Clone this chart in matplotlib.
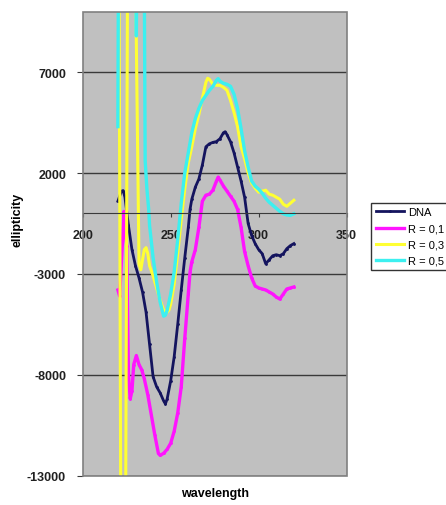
import matplotlib
matplotlib.use("Agg")
import matplotlib.pyplot as plt
from matplotlib.patches import Rectangle

plt.rcParams['font.family'] = ['Liberation Sans', 'DejaVu Sans']
plt.rcParams['axes.unicode_minus'] = False

# CD spectra (wavelength in nm, ellipticity)
wl_dna = [220, 222, 223, 224, 226, 228, 230, 232, 234, 236, 238, 240, 242, 244,
          246, 247, 248, 250, 252, 254, 256, 258, 260, 261, 262, 264, 266, 268,
          270, 272, 274, 276, 278, 280, 281, 282, 284, 286, 288, 290, 292, 294,
          296, 298, 300, 302, 304, 306, 308, 310, 312, 314, 316, 318, 320]
dna = [600, 1100, 1130, 800, -600, -1800, -2600, -3200, -3900, -4900, -6500,
       -8100, -8600, -8900, -9300, -9450, -9200, -8300, -7100, -5500, -3800,
       -2200, -700, 200, 700, 1300, 1700, 2400, 3300, 3450, 3520, 3560, 3700,
       4000, 4050, 3900, 3550, 3000, 2300, 1600, 800, -500, -1100, -1500, -1800,
       -2000, -2500, -2300, -2100, -2050, -2100, -2000, -1750, -1600, -1500]

wl_r01 = [220, 221, 223.5, 224, 225, 226, 227, 228, 229, 230.5, 232, 233.5, 235,
          237, 239, 241, 243, 244, 246, 248, 250, 252, 254, 256, 258, 260, 261,
          262, 264, 266, 268, 270, 272, 274, 276, 277, 278, 280, 282, 284, 286,
          288, 290, 292, 294, 296, 298, 300, 302, 304, 306, 308, 310, 312, 314,
          316, 318, 320]
r01 = [-3800, -4100, 100, -700, -1600, -8000, -9200, -8800, -7500, -7050, -7500,
       -7750, -8200, -9000, -10000, -11000, -11900, -12000, -11900, -11700,
       -11400, -10800, -9900, -8600, -6200, -4000, -2900, -2400, -1800, -700,
       600, 900, 950, 1150, 1600, 1800, 1650, 1350, 1100, 850, 600, 200, -700,
       -1900, -2600, -3200, -3600, -3700, -3750, -3800, -3900, -4000, -4150,
       -4250, -4000, -3750, -3700, -3650]

wl_r03 = [220, 222, 224, 226, 228, 230, 232, 233, 234, 235, 236, 237, 238, 240,
          242, 244, 246, 248, 249, 250, 252, 254, 256, 258, 260, 262, 264, 266,
          268, 270, 271, 272, 274, 276, 278, 280, 282, 284, 286, 288, 290, 292,
          294, 296, 298, 300, 302, 304, 306, 308, 310, 312, 314, 316, 318, 320]
r03 = [30000, -25000, -25000, 25000, 25000, 12000, -2500, -2800, -2300, -1800,
       -1700, -2000, -2600, -3100, -3700, -4300, -4800, -4900, -4800, -4500,
       -3500, -2000, -300, 1200, 2500, 3300, 4200, 4900, 5700, 6500, 6700, 6650,
       6400, 6350, 6350, 6250, 6100, 5600, 5000, 4300, 3300, 2700, 2000, 1500,
       1250, 1050, 1100, 1150, 950, 900, 800, 700, 450, 350, 500, 650]

wl_r05 = [220, 221, 229, 230.5, 232, 234, 235.5, 236.5, 237.5, 238, 240, 242,
          244, 246, 247, 248, 250, 252, 254, 256, 258, 260, 262, 264, 266, 268,
          270, 272, 274, 276, 277, 278, 280, 282, 284, 286, 288, 290, 292, 294,
          296, 298, 300, 302, 304, 306, 308, 310, 312, 314, 316, 318, 320]
r05 = [4300, 30000, 30000, 8800, 30000, 30000, 2600, 1200, 200, -600, -2200,
       -3400, -4400, -5100, -5050, -4800, -4000, -2900, -1300, 500, 2000, 3000,
       4000, 4700, 5200, 5600, 5850, 6100, 6300, 6600, 6680, 6550, 6450, 6400,
       6300, 5900, 5200, 4200, 3100, 2300, 1600, 1350, 1200, 1000, 750, 550,
       400, 250, 100, -20, -80, -100, -20]

labels = ["DNA", "R = 0,1", "R = 0,3", "R = 0,5"]
colors = ["#14145e", "#ff14ff", "#ffff33", "#3cf0f0"]

fig = plt.figure(figsize=(4.46, 5.06), dpi=100)
ax = fig.add_axes([0.1854, 0.0583, 0.5919, 0.9166])
ax.set_facecolor("#c0c0c0")

ax.plot(wl_dna, dna, color=colors[0], lw=2.0, marker='.', ms=2, label=labels[0])
ax.plot(wl_r01, r01, color=colors[1], lw=2.4, marker='.', ms=2, label=labels[1])
ax.plot(wl_r03, r03, color=colors[2], lw=2.2, label=labels[2])
ax.plot(wl_r05, r05, color=colors[3], lw=2.4, label=labels[3])

ax.set_xlim(200, 350)
ax.set_ylim(-13000, 10000)
ax.set_xticks([200, 250, 300, 350])
ax.set_yticks([7000, 2000, -3000, -8000, -13000])
ax.yaxis.grid(True, color="#3a3a3a", lw=1)
ax.set_axisbelow(True)

for side in ['top', 'right', 'left']:
    ax.spines[side].set_visible(False)
ax.spines['bottom'].set_position(('data', 0))
ax.spines['bottom'].set_color("#3a3a3a")
ax.add_patch(Rectangle((0, 0), 1, 1, transform=ax.transAxes, fill=False,
                       edgecolor="#808080", lw=1.2, zorder=5, clip_on=False))

ax.tick_params(axis='x', direction='out', length=3, color="#3a3a3a",
               labelsize=9, pad=8)
ax.tick_params(axis='y', direction='out', length=4, color="#3a3a3a",
               labelsize=9, pad=8)
for t in ax.get_xticklabels() + ax.get_yticklabels():
    t.set_fontweight('bold')
    t.set_color("#202020")

fig.text(0.482, 0.012, "wavelength", ha='center', va='bottom',
         fontsize=9, fontweight='bold')
fig.text(0.04, 0.565, "ellipticity", ha='center', va='center',
         rotation=90, fontsize=9, fontweight='bold')

fig.legend(loc='upper left', bbox_to_anchor=(0.832, 0.597), frameon=True,
           fancybox=False, edgecolor='black', fontsize=8, handlelength=2.6,
           borderpad=0.4, labelspacing=0.55, handletextpad=0.3,
           borderaxespad=0)

fig.savefig("out.png", dpi=100, facecolor='white')
